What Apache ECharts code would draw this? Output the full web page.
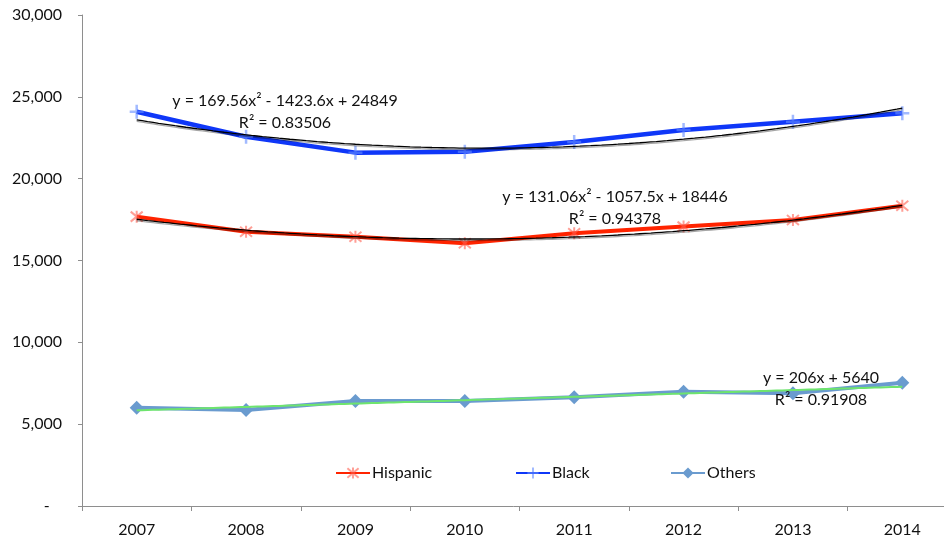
<!DOCTYPE html>
<html>
<head>
<meta charset="utf-8">
<script src="https://cdn.jsdelivr.net/npm/echarts@6/dist/echarts.min.js"></script>
<style>
  html, body { margin: 0; padding: 0; background: #fff; }
  #chart { width: 944px; height: 539px; }
</style>
</head>
<body>
<div id="chart"></div>
<script>
// Years on the category axis
const years = ['2007', '2008', '2009', '2010', '2011', '2012', '2013', '2014'];

// Yearly counts by group
const hispanic = [17680, 16760, 16450, 16050, 16660, 17070, 17480, 18350];
const black    = [24090, 22560, 21590, 21650, 22240, 22970, 23480, 23990];
const others   = [6010, 5870, 6420, 6420, 6640, 6980, 6890, 7530];

// Trendline coefficients (x = 1 for 2007 ... 8 for 2014), highest power first
const hispanicFit = [131.06, -1057.5, 18446];
const blackFit    = [169.56, -1423.6, 24849];
const othersFit   = [206, 5640];

// Equation labels
const hispanicEq = ['y = 131.06x\u00B2 - 1057.5x + 18446', 'R\u00B2 = 0.94378'];
const blackEq    = ['y = 169.56x\u00B2 - 1423.6x + 24849', 'R\u00B2 = 0.83506'];
const othersEq   = ['y = 206x + 5640', 'R\u00B2 = 0.91908'];

// Evaluate a polynomial fit along the span of the years
function fitLine(coef) {
  const pts = [];
  for (let i = 0; i <= 140; i++) {
    const x = 1 + i * 7 / 140;
    let y = 0;
    for (let k = 0; k < coef.length; k++) y = y * x + coef[k];
    pts.push([x, y]);
  }
  return pts;
}

const FONT = 'Lato, "Open Sans", sans-serif';
const AXIS_GRAY = '#8e8e8e';

const asterisk = 'path://M0,0L10,10M10,0L0,10M5,-1L5,11';
const plus = 'path://M5,0L5,10M0,5L10,5';

const trendShadow = {
  shadowColor: 'rgba(0,0,0,0.35)',
  shadowBlur: 0,
  shadowOffsetY: 1.5
};

const chart = echarts.init(document.getElementById('chart'), null, { renderer: 'canvas' });

function eqText(lines, x, y) {
  return [
    { type: 'text', x: x, y: y, z: 100,
      style: { text: lines[0], font: '16px ' + FONT, fill: '#111', align: 'center', verticalAlign: 'middle' } },
    { type: 'text', x: x, y: y + 21.5, z: 100,
      style: { text: lines[1], font: '16px ' + FONT, fill: '#111', align: 'center', verticalAlign: 'middle' } }
  ];
}

function legendAt(name, left) {
  return {
    data: [name],
    left: left,
    top: 465,
    padding: 0,
    itemWidth: 34,
    itemHeight: 14,
    itemGap: 0,
    textStyle: { fontFamily: FONT, fontSize: 16, color: '#111', padding: [0, 0, 0, -3] },
    selectedMode: false
  };
}

chart.setOption({
  animation: false,
  backgroundColor: '#fff',
  grid: { left: 82, top: 15, right: -13, bottom: 33, containLabel: false, outerBoundsMode: 'none' },
  legend: [legendAt('Hispanic', 335), legendAt('Black', 515), legendAt('Others', 670)],
  xAxis: [
    {
      type: 'category',
      data: years,
      boundaryGap: true,
      axisLine: { lineStyle: { color: AXIS_GRAY, width: 1 } },
      axisTick: { show: true, alignWithLabel: false, length: 5, lineStyle: { color: AXIS_GRAY } },
      axisLabel: { margin: 16, fontFamily: FONT, fontSize: 16, color: '#111' },
      splitLine: { show: false }
    },
    {
      type: 'value',
      min: 0.5,
      max: 8.5,
      show: false,
      splitLine: { show: false }
    }
  ],
  yAxis: {
    type: 'value',
    min: 0,
    max: 30000,
    interval: 5000,
    axisLine: { show: true, lineStyle: { color: AXIS_GRAY, width: 1 } },
    axisTick: { show: true, length: 4, lineStyle: { color: AXIS_GRAY } },
    axisLabel: {
      margin: 20,
      fontFamily: FONT,
      fontSize: 16,
      color: '#111',
      formatter: function (v) { return v === 0 ? '-   ' : v.toLocaleString('en-US'); }
    },
    splitLine: { show: false }
  },
  series: [
    {
      name: 'Hispanic',
      type: 'line',
      data: hispanic,
      xAxisIndex: 0,
      z: 3,
      lineStyle: { color: '#FF2400', width: 4 },
      symbol: asterisk,
      symbolSize: 12,
      itemStyle: { color: 'rgba(255,95,80,0.55)', borderColor: 'rgba(255,95,80,0.6)', borderWidth: 2 }
    },
    {
      name: 'Black',
      type: 'line',
      data: black,
      xAxisIndex: 0,
      z: 3,
      lineStyle: { color: '#0F37F8', width: 4.5 },
      symbol: plus,
      symbolSize: 14,
      itemStyle: { color: 'rgba(100,140,255,0.6)', borderColor: 'rgba(100,140,255,0.6)', borderWidth: 2.5 }
    },
    {
      name: 'Others',
      type: 'line',
      data: others,
      xAxisIndex: 0,
      z: 3,
      lineStyle: { color: '#6A9BCF', width: 4 },
      symbol: 'diamond',
      symbolSize: 14,
      itemStyle: { color: '#6A9BCF' }
    },
    {
      name: 'Hispanic trend',
      type: 'line',
      xAxisIndex: 1,
      data: fitLine(hispanicFit),
      showSymbol: false,
      z: 5,
      lineStyle: Object.assign({ color: '#000', width: 1.3 }, trendShadow)
    },
    {
      name: 'Black trend',
      type: 'line',
      xAxisIndex: 1,
      data: fitLine(blackFit),
      showSymbol: false,
      z: 5,
      lineStyle: Object.assign({ color: '#000', width: 1.3 }, trendShadow)
    },
    {
      name: 'Others trend',
      type: 'line',
      xAxisIndex: 1,
      data: fitLine(othersFit),
      showSymbol: false,
      z: 5,
      lineStyle: { color: '#6EE46E', width: 2 }
    }
  ],
  graphic: [].concat(
    eqText(blackEq, 285, 101),
    eqText(hispanicEq, 615, 197),
    eqText(othersEq, 821, 378)
  )
});
</script>
</body>
</html>
